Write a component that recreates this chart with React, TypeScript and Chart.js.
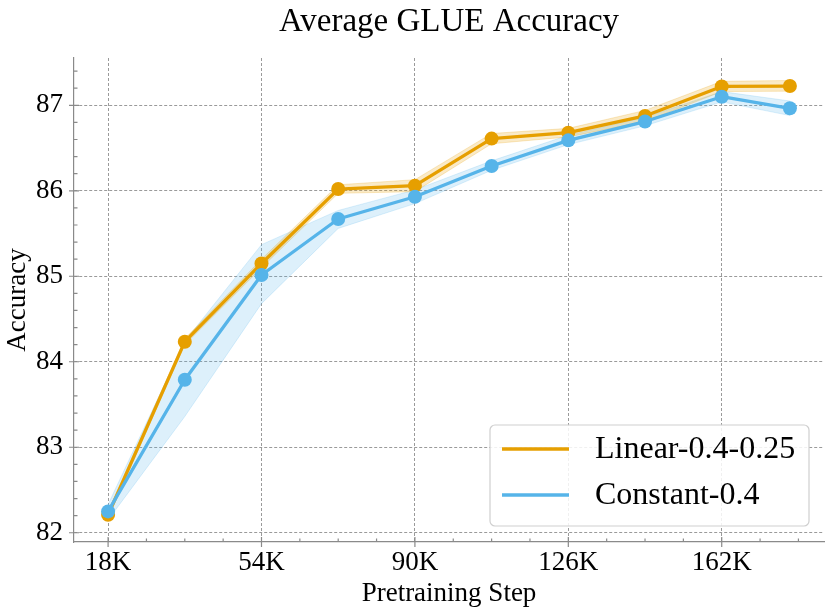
import { useEffect, useRef } from 'react';
import { Chart, registerables, ChartConfiguration, Plugin } from 'chart.js';

Chart.register(...registerables);

// pretraining steps (K)
const steps = [18, 36, 54, 72, 90, 108, 126, 144, 162, 178];
const xTicks = [18, 54, 90, 126, 162];
const yTicks = [82, 83, 84, 85, 86, 87];

const linearMean = [82.21, 84.235, 85.15, 86.02, 86.06, 86.61, 86.68, 86.875, 87.22, 87.225];
const linearLow = [82.17, 84.2, 85.1, 85.97, 85.99, 86.55, 86.63, 86.81, 87.16, 87.165];
const linearHigh = [82.25, 84.27, 85.2, 86.07, 86.13, 86.67, 86.73, 86.94, 87.28, 87.29];

const constantMean = [82.25, 83.79, 85.015, 85.67, 85.93, 86.29, 86.59, 86.81, 87.1, 86.965];
const constantLow = [82.15, 83.36, 84.68, 85.56, 85.85, 86.24, 86.54, 86.76, 87.04, 86.88];
const constantHigh = [82.33, 84.24, 85.37, 85.77, 86.01, 86.35, 86.65, 86.86, 87.16, 87.05];

const ORANGE = '#E69F00';
const BLUE = '#56B4E9';
const ORANGE_BAND = 'rgba(230, 159, 0, 0.22)';
const BLUE_BAND = 'rgba(86, 180, 233, 0.2)';
const SERIF = "'Liberation Serif', 'DejaVu Serif', serif";
const AXIS_GRAY = '#8a8a8a';
const TITLE = 'Average GLUE Accuracy';

const pts = (vals: number[]) => steps.map((s, i) => ({ x: s, y: vals[i] }));

// title centred over the plot area, not the whole canvas
const plotTitle: Plugin = {
  id: 'plotTitle',
  afterDraw(chart) {
    const { ctx, chartArea } = chart;
    ctx.save();
    ctx.font = `33px ${SERIF}`;
    ctx.fillStyle = '#000';
    ctx.textAlign = 'center';
    ctx.textBaseline = 'alphabetic';
    ctx.fillText(TITLE, (chartArea.left + chartArea.right) / 2, 31);
    ctx.restore();
  },
};

// inward minor ticks + major ticks, drawn from the scales
const tickMarks: Plugin = {
  id: 'tickMarks',
  afterDraw(chart) {
    const { ctx, chartArea, scales } = chart;
    const x = scales.x;
    const y = scales.y;
    ctx.save();
    ctx.strokeStyle = AXIS_GRAY;
    ctx.lineWidth = 1.2;
    ctx.beginPath();
    for (let v = 9; v <= 186; v += 9) {
      if (v < (x.min as number)) continue;
      const px = x.getPixelForValue(v);
      const major = xTicks.includes(v);
      ctx.moveTo(px, chartArea.bottom + (major ? 5 : 0));
      ctx.lineTo(px, chartArea.bottom - (major ? 5 : 3.5));
    }
    for (let k = 0; k <= 30; k++) {
      const v = 82 + k * 0.2;
      if (v > (y.max as number)) break;
      const py = y.getPixelForValue(v);
      const major = k % 5 === 0;
      ctx.moveTo(chartArea.left - (major ? 5 : 0), py);
      ctx.lineTo(chartArea.left + (major ? 5 : 3.5), py);
    }
    ctx.stroke();
    ctx.restore();
  },
};

const boxLegend: Plugin = {
  id: 'boxLegend',
  afterDraw(chart) {
    const { ctx } = chart;
    const entries = [chart.data.datasets[1], chart.data.datasets[0]];
    const bx = 490, by = 425, bw = 319, bh = 101, r = 5;
    ctx.save();
    ctx.beginPath();
    ctx.roundRect(bx, by, bw, bh, r);
    ctx.fillStyle = 'rgba(255,255,255,0.85)';
    ctx.fill();
    ctx.strokeStyle = '#cfcfcf';
    ctx.lineWidth = 1.2;
    ctx.stroke();
    ctx.font = `32px ${SERIF}`;
    ctx.textBaseline = 'middle';
    ctx.fillStyle = '#000';
    entries.forEach((ds, i) => {
      const ly = 449 + i * 46;
      ctx.beginPath();
      ctx.strokeStyle = ds.borderColor as string;
      ctx.lineWidth = 3.3;
      ctx.moveTo(502, ly);
      ctx.lineTo(569, ly);
      ctx.stroke();
      ctx.fillText(ds.label as string, 595, ly + 1);
    });
    ctx.restore();
  },
};

export default function App() {
  const chartRef = useRef<HTMLCanvasElement>(null);
  const chartInstanceRef = useRef<Chart | null>(null);

  useEffect(() => {
    if (chartInstanceRef.current) {
      chartInstanceRef.current.destroy();
    }
    if (!chartRef.current) return;

    const tickFont = { family: SERIF, size: 27 };

    const config: ChartConfiguration<'line'> = {
      type: 'line',
      data: {
        datasets: [
          {
            label: 'Constant-0.4',
            data: pts(constantMean),
            borderColor: BLUE,
            backgroundColor: BLUE,
            pointBackgroundColor: BLUE,
            borderWidth: 3.3,
            pointRadius: 7,
            pointBorderWidth: 0,
            fill: false,
            order: 0,
          },
          {
            label: 'Linear-0.4-0.25',
            data: pts(linearMean),
            borderColor: ORANGE,
            backgroundColor: ORANGE,
            pointBackgroundColor: ORANGE,
            borderWidth: 3.3,
            pointRadius: 7,
            pointBorderWidth: 0,
            fill: false,
            order: 1,
          },
          {
            label: 'linear-high',
            data: pts(linearHigh),
            borderColor: ORANGE_BAND,
            borderWidth: 1,
            pointRadius: 0,
            fill: false,
            order: 2,
          },
          {
            label: 'linear-low',
            data: pts(linearLow),
            borderColor: ORANGE_BAND,
            backgroundColor: ORANGE_BAND,
            borderWidth: 1,
            pointRadius: 0,
            fill: { target: 2 },
            order: 3,
          },
          {
            label: 'constant-high',
            data: pts(constantHigh),
            borderColor: BLUE_BAND,
            borderWidth: 1,
            pointRadius: 0,
            fill: false,
            order: 4,
          },
          {
            label: 'constant-low',
            data: pts(constantLow),
            borderColor: BLUE_BAND,
            backgroundColor: BLUE_BAND,
            borderWidth: 1,
            pointRadius: 0,
            fill: { target: 4 },
            order: 5,
          },
        ],
      },
      options: {
        responsive: false,
        animation: false,
        events: [],
        layout: { padding: { left: 0, right: 6, top: 58, bottom: 0 } },
        elements: {
          line: { tension: 0, borderJoinStyle: 'round', borderCapStyle: 'round' },
        },
        plugins: {
          legend: { display: false },
          tooltip: { enabled: false },
          title: { display: false },
        },
        scales: {
          x: {
            type: 'linear',
            min: 10,
            max: 186,
            afterBuildTicks: (s) => {
              s.ticks = xTicks.map((v) => ({ value: v }));
            },
            afterFit: (s) => {
              s.height = 72;
            },
            ticks: {
              color: '#000',
              font: tickFont,
              padding: 5,
              maxRotation: 0,
              autoSkip: false,
              callback: (v) => `${v}K`,
            },
            grid: { color: '#9a9a9a', lineWidth: 1, drawTicks: false },
            border: { display: true, color: AXIS_GRAY, width: 1.2, dash: [3, 2] },
            title: {
              display: true,
              text: 'Pretraining Step',
              color: '#000',
              font: tickFont,
              padding: { top: 0, bottom: 4 },
            },
          },
          y: {
            type: 'linear',
            min: 81.892,
            max: 87.553,
            afterBuildTicks: (s) => {
              s.ticks = yTicks.map((v) => ({ value: v }));
            },
            afterFit: (s) => {
              s.width = 74;
            },
            ticks: {
              color: '#000',
              font: tickFont,
              padding: 11,
              callback: (v) => String(v),
            },
            grid: { color: '#9a9a9a', lineWidth: 1, drawTicks: false },
            border: { display: true, color: AXIS_GRAY, width: 1.2, dash: [3, 2] },
            title: {
              display: true,
              text: 'Accuracy',
              color: '#000',
              font: tickFont,
              padding: { top: 2, bottom: 0 },
            },
          },
        },
      },
      plugins: [tickMarks, boxLegend, plotTitle],
    };

    chartInstanceRef.current = new Chart(chartRef.current, config);

    return () => {
      if (chartInstanceRef.current) {
        chartInstanceRef.current.destroy();
        chartInstanceRef.current = null;
      }
    };
  }, []);

  return (
    <div style={{ position: 'absolute', left: 0, top: 0, width: 831, height: 614, background: '#fff' }}>
      <canvas ref={chartRef} width={831} height={614} style={{ display: 'block' }}></canvas>
    </div>
  );
}
